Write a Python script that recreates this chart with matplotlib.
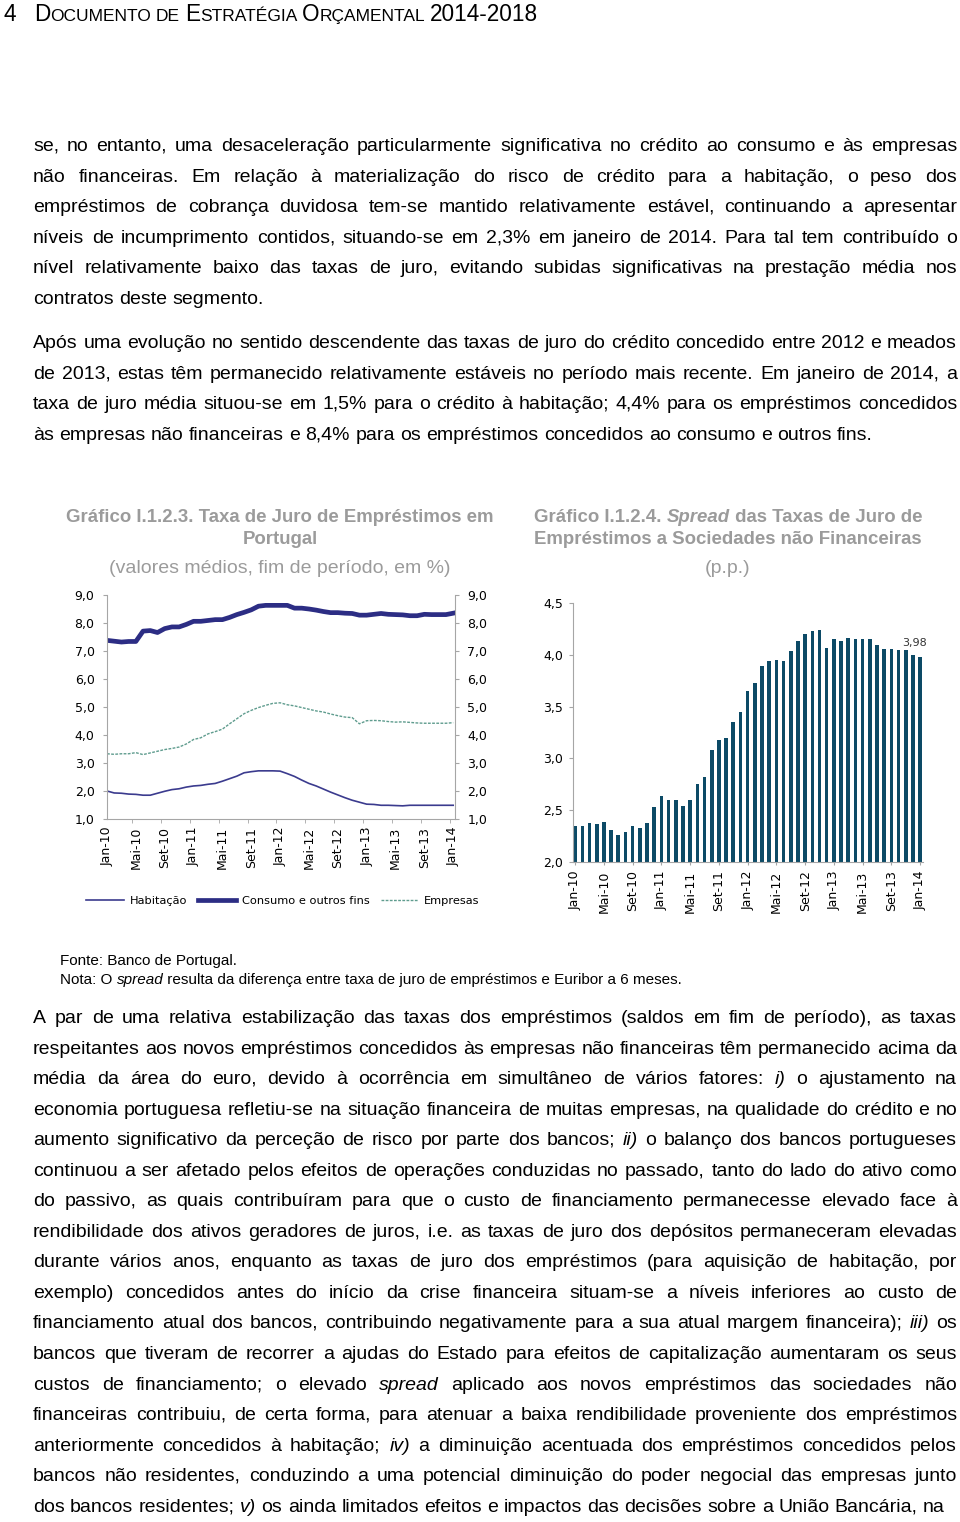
import math
import matplotlib
matplotlib.use("Agg")
import matplotlib.pyplot as plt
from matplotlib.font_manager import FontProperties
from matplotlib.lines import Line2D
import numpy as np

# ---- data (monthly, Jan-10 .. Jan-14) ----
habitacao = [2.00, 1.93, 1.92, 1.89, 1.88, 1.85, 1.85, 1.92, 1.99, 2.05, 2.08, 2.14,
             2.18, 2.20, 2.24, 2.27, 2.35, 2.44, 2.53, 2.65, 2.69, 2.72, 2.72, 2.72,
             2.71, 2.62, 2.52, 2.39, 2.27, 2.18, 2.07, 1.96, 1.86, 1.76, 1.67, 1.60,
             1.53, 1.52, 1.49, 1.49, 1.48, 1.47, 1.49, 1.49, 1.49, 1.49, 1.49, 1.49,
             1.49]
consumo = [7.38, 7.35, 7.32, 7.34, 7.34, 7.71, 7.73, 7.66, 7.80, 7.86, 7.86, 7.95,
           8.06, 8.06, 8.09, 8.12, 8.12, 8.20, 8.30, 8.38, 8.47, 8.60, 8.63, 8.63,
           8.63, 8.63, 8.53, 8.53, 8.50, 8.46, 8.41, 8.37, 8.37, 8.35, 8.34, 8.28,
           8.28, 8.31, 8.34, 8.31, 8.30, 8.29, 8.26, 8.26, 8.31, 8.30, 8.30, 8.30,
           8.35]
empresas = [3.33, 3.31, 3.33, 3.33, 3.37, 3.30, 3.36, 3.42, 3.48, 3.52, 3.57, 3.68,
            3.84, 3.90, 4.04, 4.12, 4.21, 4.40, 4.58, 4.76, 4.88, 4.98, 5.06, 5.13,
            5.15, 5.08, 5.04, 4.98, 4.92, 4.86, 4.82, 4.75, 4.69, 4.64, 4.62, 4.40,
            4.51, 4.52, 4.51, 4.48, 4.46, 4.47, 4.45, 4.43, 4.42, 4.42, 4.42, 4.42,
            4.44]
spread = [2.35, 2.35, 2.38, 2.37, 2.39, 2.31, 2.26, 2.29, 2.35, 2.33, 2.38, 2.53,
          2.64, 2.60, 2.60, 2.54, 2.60, 2.75, 2.82, 3.08, 3.18, 3.20, 3.35, 3.45,
          3.65, 3.73, 3.89, 3.94, 3.95, 3.94, 4.04, 4.13, 4.20, 4.23, 4.24, 4.07,
          4.15, 4.13, 4.16, 4.15, 4.15, 4.15, 4.09, 4.06, 4.06, 4.05, 4.05, 4.00,
          3.98]
month_labels = ['Jan-10', 'Mai-10', 'Set-10', 'Jan-11', 'Mai-11', 'Set-11', 'Jan-12',
                'Mai-12', 'Set-12', 'Jan-13', 'Mai-13', 'Set-13', 'Jan-14']
left_yticks = [1, 2, 3, 4, 5, 6, 7, 8, 9]
right_yticks = [2.0, 2.5, 3.0, 3.5, 4.0, 4.5]
series_names = ['Habitação', 'Consumo e outros fins', 'Empresas']

# ---- page text (lines as broken in the original, _word = italic) ----
para1 = ["se, no entanto, uma desaceleração particularmente significativa no crédito ao consumo e às empresas",
         "não financeiras. Em relação à materialização do risco de crédito para a habitação, o peso dos",
         "empréstimos de cobrança duvidosa tem-se mantido relativamente estável, continuando a apresentar",
         "níveis de incumprimento contidos, situando-se em 2,3% em janeiro de 2014. Para tal tem contribuído o",
         "nível relativamente baixo das taxas de juro, evitando subidas significativas na prestação média nos",
         "contratos deste segmento."]
para2 = ["Após uma evolução no sentido descendente das taxas de juro do crédito concedido entre 2012 e meados",
         "de 2013, estas têm permanecido relativamente estáveis no período mais recente. Em janeiro de 2014, a",
         "taxa de juro média situou-se em 1,5% para o crédito à habitação; 4,4% para os empréstimos concedidos",
         "às empresas não financeiras e 8,4% para os empréstimos concedidos ao consumo e outros fins."]
para3 = ["A par de uma relativa estabilização das taxas dos empréstimos (saldos em fim de período), as taxas",
         "respeitantes aos novos empréstimos concedidos às empresas não financeiras têm permanecido acima da",
         "média da área do euro, devido à ocorrência em simultâneo de vários fatores: _i) o ajustamento na",
         "economia portuguesa refletiu-se na situação financeira de muitas empresas, na qualidade do crédito e no",
         "aumento significativo da perceção de risco por parte dos bancos; _ii) o balanço dos bancos portugueses",
         "continuou a ser afetado pelos efeitos de operações conduzidas no passado, tanto do lado do ativo como",
         "do passivo, as quais contribuíram para que o custo de financiamento permanecesse elevado face à",
         "rendibilidade dos ativos geradores de juros, i.e. as taxas de juro dos depósitos permaneceram elevadas",
         "durante vários anos, enquanto as taxas de juro dos empréstimos (para aquisição de habitação, por",
         "exemplo) concedidos antes do início da crise financeira situam-se a níveis inferiores ao custo de",
         "financiamento atual dos bancos, contribuindo negativamente para a sua atual margem financeira); _iii) os",
         "bancos que tiveram de recorrer a ajudas do Estado para efeitos de capitalização aumentaram os seus",
         "custos de financiamento; o elevado _spread aplicado aos novos empréstimos das sociedades não",
         "financeiras contribuiu, de certa forma, para atenuar a baixa rendibilidade proveniente dos empréstimos",
         "anteriormente concedidos à habitação; _iv) a diminuição acentuada dos empréstimos concedidos pelos",
         "bancos não residentes, conduzindo a uma potencial diminuição do poder negocial das empresas junto",
         "dos bancos residentes; _v) os ainda limitados efeitos e impactos das decisões sobre a União Bancária, na"]

FAM = ['Liberation Sans', 'DejaVu Sans']
GRAY = '#9b9b9b'
AXGRAY = '#a6a6a6'

fig = plt.figure(figsize=(9.6, 15.22), dpi=100)
page = fig.add_axes([0, 0, 1, 1])
page.set_xlim(0, 960)
page.set_ylim(1522, 0)
page.axis('off')
renderer = fig.canvas.get_renderer()


def fp(size, style='normal', weight='normal', family=FAM):
    return FontProperties(family=family, size=size, style=style, weight=weight)


def tw(s, prop):
    w, h, d = renderer.get_text_width_height_descent(s, prop, ismath=False)
    return w


def place(x, y, s, prop, color='black'):
    # nudge y so Agg's pixel rounding puts every word on the same baseline row
    w, h, d = renderer.get_text_width_height_descent(s, prop, ismath=False)
    T = round(y)
    ok = [dl for dl in np.arange(-1.0, 1.0, 0.02)
          if round(T + dl + d) - math.floor(h) + math.floor(h - d) == T]
    dl = ok[len(ok) // 2] if ok else 0.0
    page.text(x, T + dl, s, fontproperties=prop, va='baseline', ha='left', color=color)


def runs(items, x, y, ha='left', color='black'):
    # items: list of (text, fontprops) drawn one after another
    widths = [tw(t, p) for t, p in items]
    if ha == 'center':
        x = x - sum(widths) / 2
    for (t, p), w in zip(items, widths):
        place(x, y, t, p, color)
        x += w


def paragraph(lines, y0, step=30.55, size=14, x0=33, x1=957):
    reg = fp(size)
    ita = fp(size, style='italic')
    sp = tw('a a', reg) - tw('aa', reg)
    for k, line in enumerate(lines):
        y = y0 + k * step
        words = [(w[1:], ita) if w.startswith('_') else (w, reg) for w in line.split(' ')]
        widths = [tw(t, p) for t, p in words]
        last = k == len(lines) - 1
        gap = sp if last else (x1 - x0 - sum(widths)) / (len(words) - 1)
        x = x0
        for (t, p), w in zip(words, widths):
            place(x, y, t, p)
            x += w + gap


# ---- header with small caps ----
hfam = ['Liberation Sans Narrow', 'Liberation Sans', 'DejaVu Sans']
big = fp(16.3, family=hfam)
small = fp(12.5, family=hfam)
place(3, 21, '4', big)
runs([('D', big), ('OCUMENTO', small), (' ', small), ('DE', small), (' ', small),
      ('E', big), ('STRATÉGIA', small), (' ', small), ('O', big), ('RÇAMENTAL', small),
      (' ', small), ('2014-2018', big)], 34, 21)

paragraph(para1, 151)
paragraph(para2, 348)
paragraph(para3, 1023)

# ---- chart titles ----
tb = fp(13.4, weight='bold')
tbi = fp(13.4, weight='bold', style='italic')
tr = fp(14)
runs([('Gráfico I.1.2.3. Taxa de Juro de Empréstimos em', tb)], 280, 522, ha='center', color=GRAY)
runs([('Portugal', tb)], 280, 544, ha='center', color=GRAY)
runs([('(valores médios, fim de período, em %)', tr)], 280, 573, ha='center', color=GRAY)
runs([('Gráfico I.1.2.4. ', tb), ('Spread', tbi), (' das Taxas de Juro de', tb)], 728, 522,
     ha='center', color=GRAY)
runs([('Empréstimos a Sociedades não Financeiras', tb)], 728, 544, ha='center', color=GRAY)
runs([('(p.p.)', tr)], 728, 573, ha='center', color=GRAY)

# ---- notes ----
nf = fp(11)
nfi = fp(11, style='italic')
runs([('Fonte: Banco de Portugal.', nf)], 60, 965)
runs([('Nota: O ', nf), ('spread', nfi),
      (' resulta da diferença entre taxa de juro de empréstimos e Euribor a 6 meses.', nf)], 60, 984)


def fmt1(v):
    return f"{v:.1f}".replace('.', ',')


W, H = 960.0, 1522.0
x = np.arange(len(habitacao))
tickfont = 9

# ---- left chart: interest rates ----
ax = fig.add_axes([107 / W, 1 - 819 / H, 348 / W, 224 / H])
ax.plot(x, habitacao, color='#3b3b8e', lw=1.2)
ax.plot(x, consumo, color='#2c2d84', lw=3.4)
ax.plot(x, empresas, color='#5f9c8e', lw=1.0, linestyle=(0, (2, 1)))
ax.set_xlim(0, 48.25)
ax.set_ylim(1, 9)
ax.set_yticks(left_yticks)
ax.set_yticklabels([fmt1(v) for v in left_yticks])
ax.set_xticks(x[::4])
ax.set_xticklabels(month_labels, rotation=90)
ax.set_xticks(x[4::4] - 0.5, minor=True)
ax.tick_params(axis='x', which='major', length=0, pad=5.5, labelsize=tickfont)
ax.tick_params(axis='x', which='minor', length=3, color=AXGRAY)
ax.tick_params(axis='y', length=3, color=AXGRAY, labelsize=tickfont, pad=6,
               right=True, labelright=True)
for s in ['left', 'right', 'bottom']:
    ax.spines[s].set_color(AXGRAY)
ax.spines['top'].set_visible(False)
ax.patch.set_alpha(0)

handles = [Line2D([], [], color='#3b3b8e', lw=1.2),
           Line2D([], [], color='#2c2d84', lw=3.4),
           Line2D([], [], color='#5f9c8e', lw=1.0, linestyle=(0, (2, 1)))]
fig.legend(handles, series_names, loc='center', bbox_to_anchor=(283 / W, 1 - 901 / H),
           ncol=3, frameon=False, fontsize=8.2, handlelength=3.3, handletextpad=0.5,
           columnspacing=1.0, borderaxespad=0)

# ---- right chart: spread ----
ax2 = fig.add_axes([573 / W, 1 - 862 / H, 350 / W, 259 / H])
ax2.bar(x, spread, width=0.5, color='#0c4a66')
ax2.set_xlim(-0.3, 48.4)
ax2.set_ylim(2.0, 4.5)
ax2.set_yticks(right_yticks)
ax2.set_yticklabels([fmt1(v) for v in right_yticks])
ax2.set_xticks(x[::4])
ax2.set_xticklabels(month_labels, rotation=90)
ax2.tick_params(axis='x', length=2, color=AXGRAY, pad=4, labelsize=tickfont)
ax2.tick_params(axis='y', length=3, color=AXGRAY, pad=4, labelsize=tickfont)
for s in ['left', 'bottom']:
    ax2.spines[s].set_color(AXGRAY)
for s in ['top', 'right']:
    ax2.spines[s].set_visible(False)
ax2.patch.set_alpha(0)
ax2.annotate(f"{spread[-1]:.2f}".replace('.', ','),
             xy=(x[-1], spread[-1]), xytext=(-6, 14), textcoords='offset pixels',
             ha='center', va='center', fontsize=8, color='#333333')

fig.savefig('out.png', dpi=100)
